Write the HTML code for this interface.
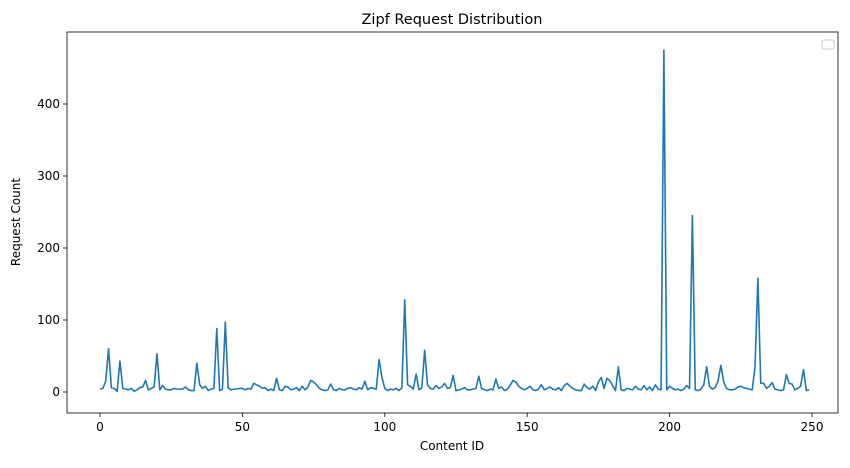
<!DOCTYPE html>
<html><head><meta charset="utf-8"><style>
body{margin:0;background:#fff}
svg text{font-family:"DejaVu Sans","Liberation Sans",sans-serif;fill:#000}
</style></head><body>
<svg id="chart" width="850" height="463" viewBox="0 0 850 463" xmlns="http://www.w3.org/2000/svg">
<rect width="850" height="463" fill="#fff"/>
<text x="452" y="24" text-anchor="middle" font-size="14.5">Zipf Request Distribution</text>
<g id="plot"></g>
<text x="452" y="450" text-anchor="middle" font-size="12">Content ID</text>
<text transform="translate(20,222) rotate(-90)" text-anchor="middle" font-size="12">Request Count</text>
<rect x="822" y="40" width="12" height="9" rx="2" fill="#fff" stroke="#ccc" stroke-width="1"/>
</svg>
<script>
const xTicks=[0,50,100,150,200,250];
const yTicks=[0,100,200,300,400];
const requestCounts=[
4,5,15,60,6,5,1,43,5,4,
3,5,1,3,6,7,16,3,5,7,
53,3,9,4,3,3,5,4,4,4,
7,3,2,2,40,10,5,8,2,4,
5,88,2,4,97,6,3,4,4,5,
5,3,5,4,12,10,8,5,6,2,
4,2,19,3,2,8,7,3,4,6,
2,8,3,7,16,14,10,5,3,2,
3,11,3,2,5,3,3,5,6,4,
3,6,4,15,3,6,5,4,45,20,
5,2,4,3,5,2,6,128,10,8,
4,25,3,6,58,10,5,4,9,5,
7,12,5,6,23,2,3,4,6,3,
3,4,5,22,5,3,2,4,3,18,
5,7,2,4,9,16,14,8,5,3,
5,8,3,2,4,10,3,5,7,4,
3,6,2,9,12,8,5,3,2,2,
11,6,4,8,2,14,20,5,19,16,
9,2,35,3,2,5,4,3,8,4,
3,9,3,7,2,10,4,3,475,3,
8,5,3,4,2,4,9,5,245,3,
2,4,10,35,8,4,6,15,37,14,
5,3,3,4,7,8,6,5,4,3,
35,158,12,12,5,8,13,4,3,2,
3,24,12,11,3,5,8,31,2,3];
const contentIds=requestCounts.map((_,i)=>i);

const L=67,R=838,T=32,B=413;
const xs=v=>100+v*(812-100)/250;
const ys=v=>392-v*(392-104)/400;
const NS="http://www.w3.org/2000/svg";
const g=document.getElementById('plot');
function mk(tag,attrs){const e=document.createElementNS(NS,tag);for(const k in attrs)e.setAttribute(k,attrs[k]);g.appendChild(e);return e;}

xTicks.forEach(t=>{
  const tk=mk('line',{x1:xs(t),x2:xs(t),y1:B,y2:B+4,stroke:'#000','stroke-width':0.8});
  
  
  const tx=mk('text',{x:xs(t),y:B+18,'text-anchor':'middle','font-size':12});
  
  
  tx.textContent=t;
});
yTicks.forEach(t=>{
  const tk=mk('line',{x1:L-4,x2:L,y1:ys(t),y2:ys(t),stroke:'#000','stroke-width':0.8});
  
  
  const tx=mk('text',{x:L-7,y:ys(t)+4,'text-anchor':'end','font-size':12});
  
  
  tx.textContent=t;
});
const line=mk('polyline',{points:requestCounts.map((v,i)=>xs(contentIds[i]).toFixed(2)+','+ys(v).toFixed(2)).join(' '),fill:'none',stroke:'#1f77b4','stroke-width':1.6,'stroke-linejoin':'round'});


const frame=mk('rect',{x:L,y:T,width:R-L,height:B-T,fill:'none',stroke:'#000','stroke-width':0.8});


</script>
</body></html>
